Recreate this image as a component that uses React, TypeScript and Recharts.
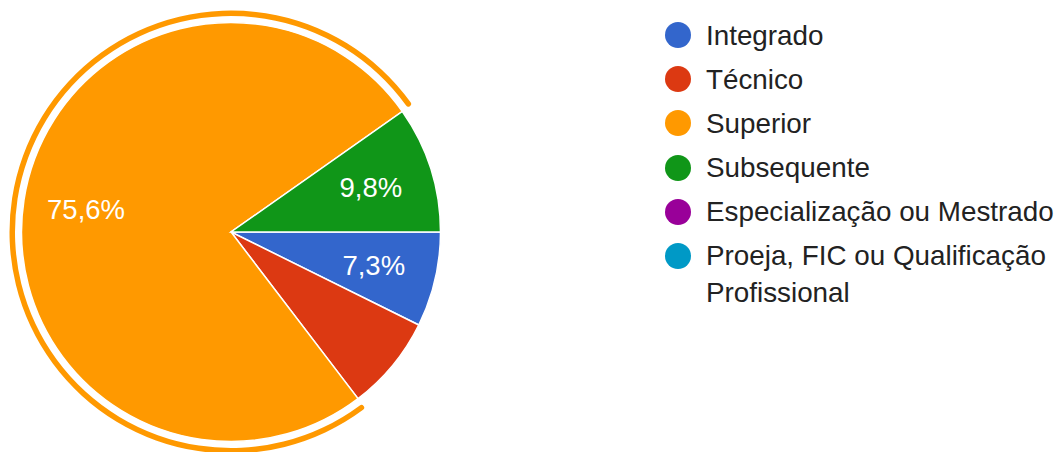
import React from "react";
import { PieChart, Pie, Cell, Legend } from "recharts";

const CATEGORIES = [
  "Integrado",
  "Técnico",
  "Superior",
  "Subsequente",
  "Especialização ou Mestrado",
  "Proeja, FIC ou Qualificação Profissional",
];
const COUNTS = [3, 3, 31, 4, 0, 0];
const COLORS = ["#3366cc", "#dc3912", "#ff9900", "#109618", "#990099", "#0099c6"];
// Google hides the label of the red slice, keep it that way
const HIDDEN_LABELS = ["Técnico"];
const HIGHLIGHTED = "Superior";

const FONT = "Arial, 'Liberation Sans', sans-serif";
const RADIAN = Math.PI / 180;

const renderLabel = (props: any) => {
  const { cx, cy, midAngle, outerRadius, percent, name } = props;
  if (!percent || HIDDEN_LABELS.includes(name)) return null;
  const r = outerRadius * 0.7;
  const x = cx + r * Math.cos(-midAngle * RADIAN);
  const y = cy + r * Math.sin(-midAngle * RADIAN);
  return (
    <text
      x={x}
      y={y}
      fill='#ffffff'
      textAnchor='middle'
      dominantBaseline='central'
      fontSize={27.5}
      fontFamily={FONT}
    >
      {(percent * 100).toFixed(1).replace(".", ",")}%
    </text>
  );
};

const renderLegend = () => (
  <ul style={{ listStyle: "none", margin: 0, padding: 0, width: 397 }}>
    {CATEGORIES.map((name, i) => (
      <li
        key={name}
        style={{ display: "flex", alignItems: "flex-start", marginBottom: 7.2 }}
      >
        <div
          style={{
            width: 26,
            height: 26,
            borderRadius: "50%",
            backgroundColor: COLORS[i],
            marginTop: 5.5,
            marginRight: 15,
            flexShrink: 0,
          }}
        />
        <span
          style={{
            fontFamily: FONT,
            fontSize: 27.8,
            lineHeight: "37px",
            color: "#222222",
          }}
        >
          {name}
        </span>
      </li>
    ))}
  </ul>
);

export default function App() {
  const data = CATEGORIES.map((name, i) => ({ name, value: COUNTS[i] }));

  return (
    <div style={{ position: "absolute", left: 0, top: 0, background: "#fff" }}>
      <PieChart
        width={1062}
        height={452}
        margin={{ top: 0, right: 0, bottom: 0, left: 0 }}
      >
        <Pie
          data={data}
          dataKey='value'
          nameKey='name'
          cx={231}
          cy={232}
          outerRadius={209.5}
          startAngle={0}
          endAngle={-360}
          stroke='#ffffff'
          strokeWidth={1.5}
          label={renderLabel}
          labelLine={false}
          isAnimationActive={false}
        >
          {data.map((d, i) => (
            <Cell key={`cell-${i}`} fill={COLORS[i]} />
          ))}
        </Pie>
        {/* highlight ring around the selected slice */}
        <Pie
          data={data}
          dataKey='value'
          nameKey='name'
          cx={231}
          cy={232}
          innerRadius={216}
          outerRadius={221.5}
          cornerRadius={2.7}
          startAngle={0}
          endAngle={-360}
          stroke='none'
          legendType='none'
          isAnimationActive={false}
        >
          {data.map((d, i) => (
            <Cell
              key={`ring-${i}`}
              fill={d.name === HIGHLIGHTED ? COLORS[i] : "none"}
            />
          ))}
        </Pie>
        <Legend
          layout='vertical'
          align='right'
          verticalAlign='top'
          content={renderLegend}
          wrapperStyle={{ left: 665, top: 16.5, width: 397 }}
        />
      </PieChart>
    </div>
  );
}
